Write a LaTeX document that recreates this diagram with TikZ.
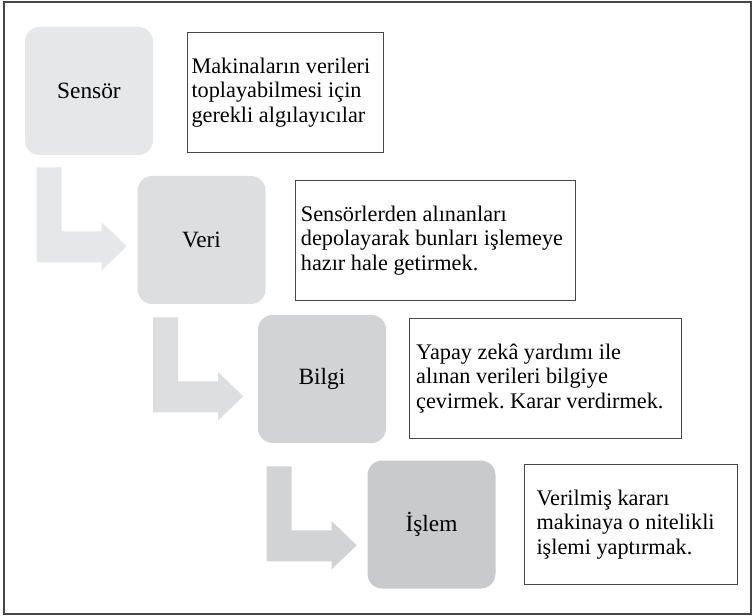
\documentclass[tikz,border=0pt]{standalone}
\usepackage{fontspec}
\setmainfont{Liberation Serif}
\usetikzlibrary{positioning, calc}
\definecolor{stageA}{RGB}{230,231,232}
\definecolor{stageB}{RGB}{221,222,223}
\definecolor{stageC}{RGB}{210,211,213}
\definecolor{stageD}{RGB}{201,202,204}
\definecolor{framegray}{RGB}{70,70,70}
\frenchspacing

\begin{document}
\begin{tikzpicture}[
    x=0.75pt, y=-0.75pt,
    stage/.style={rectangle, rounded corners=11pt, fill=#1, minimum width=96pt, minimum height=96pt, font=\fontsize{17.5}{20}\selectfont},
    note/.style={rectangle, draw=framegray, line width=0.8pt, anchor=north west, minimum height=90pt, align=flush left, font=\fontsize{16.7}{18.5}\selectfont},
    bend/.style={fill=#1}
]
    \useasboundingbox (0,0) rectangle (753,616);
    \draw[framegray, line width=1.1pt] (4,2) rectangle (751,614);

    % stages
    \node[stage=stageA] (sensor) at (89,91) {Sensör};
    \node[stage=stageB] (veri) at (201.5,240) {Veri};
    \node[stage=stageC] (bilgi) at (322,379) {Bilgi};
    \node[stage=stageD] (islem) at (431.5,524.5) {İşlem};

    % descriptions
    \node[note, minimum width=147pt, text width=141pt, inner xsep=3pt] (n1) at (187,32) {Makinaların verileri\\toplayabilmesi için\\gerekli algılayıcılar};
    \node[note, minimum width=210pt, text width=202pt, inner xsep=4pt] (n2) at (295,180) {Sensörlerden alınanları\\depolayarak bunları işlemeye\\hazır hale getirmek.};
    \node[note, minimum width=204pt, text width=194pt, inner xsep=5pt] (n3) at (409,318) {Yapay zekâ yardımı ile\\alınan verileri bilgiye\\çevirmek. Karar verdirmek.};
    \node[note, minimum width=160pt, text width=142pt, inner xsep=9pt] (n4) at (524,464) {Verilmiş kararı\\makinaya o nitelikli\\işlemi yaptırmak.};

    % bent arrows
    \fill[bend=stageA, shift={($(sensor.south west)+(12,12)$)}] (0,0) -- (25,0) -- (25,64) -- (65,64) -- (65,55) -- (90,79) -- (65,103) -- (65,95) -- (0,95) -- cycle;
    \fill[bend=stageB, shift={($(veri.south west)+(16,13)$)}] (0,0) -- (25,0) -- (25,64) -- (65,64) -- (65,55) -- (90,79) -- (65,103) -- (65,95) -- (0,95) -- cycle;
    \fill[bend=stageC, shift={($(bilgi.south west)+(9,23)$)}] (0,0) -- (25,0) -- (25,64) -- (65,64) -- (65,55) -- (90,79) -- (65,103) -- (65,95) -- (0,95) -- cycle;
\end{tikzpicture}
\end{document}
